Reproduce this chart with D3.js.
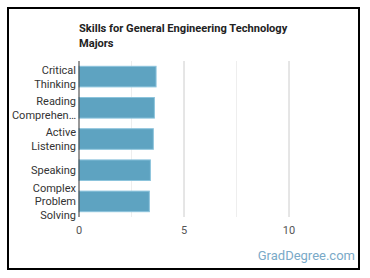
<!DOCTYPE html>
<html>
<head>
<meta charset="utf-8">
<script src="https://cdn.jsdelivr.net/npm/d3@7"></script>
<style>
  body { margin: 0; background: #fff; }
  svg { font-family: Roboto, "Noto Sans", sans-serif; }
</style>
</head>
<body>
<div id="chart"></div>
<script>
"use strict";

// data
var skills = [
	["Critical", "Thinking"],
	["Reading", "Comprehen\u2026"],
	["Active", "Listening"],
	["Speaking"],
	["Complex", "Problem", "Solving"]
];
var scores = [3.67, 3.59, 3.54, 3.40, 3.35];
var ticks = [0, 5, 10];
var gridTicks = [0, 2.5, 5, 7.5, 10];

var width = 370, height = 278;
var plotLeft = 79, plotTop = 61, plotBottom = 217;

var svg = d3.select("#chart").append("svg")
	.attr("width", width)
	.attr("height", height);

// frame
svg.append("rect")
	.attr("x", 8).attr("y", 8)
	.attr("width", 351).attr("height", 261)
	.attr("fill", "#fff")
	.attr("stroke", "#000")
	.attr("stroke-width", 2);

// title
var title = svg.append("text")
	.attr("x", plotLeft)
	.attr("y", 32)
	.attr("font-size", 11.1)
	.attr("font-weight", "bold")
	.attr("fill", "#222");
title.append("tspan").attr("x", plotLeft).text("Skills for General Engineering Technology");
title.append("tspan").attr("x", plotLeft).attr("dy", 14.5).text("Majors");

var x = d3.scaleLinear().domain([0, 10]).range([plotLeft, 289]);
var y = d3.scaleBand()
	.domain(d3.range(skills.length))
	.range([plotTop, plotBottom])
	.paddingInner(0.34)
	.paddingOuter(0.17);

// grid
svg.selectAll(".grid")
	.data(gridTicks.slice(1))
	.enter().append("line")
	.attr("x1", function(d) { return x(d); })
	.attr("x2", function(d) { return x(d); })
	.attr("y1", plotTop)
	.attr("y2", plotBottom)
	.attr("stroke", function(d) { return d % 5 === 0 ? "#ccc" : "#eee"; })
	.attr("stroke-width", 1);

// bars
svg.selectAll(".bar")
	.data(scores)
	.enter().append("rect")
	.attr("x", x(0))
	.attr("y", function(d, i) { return y(i); })
	.attr("width", function(d) { return x(d) - x(0); })
	.attr("height", y.bandwidth())
	.attr("fill", "#5ea3c1")
	.attr("stroke", "#8cc4dc")
	.attr("stroke-width", 1);

// y axis line
svg.append("line")
	.attr("x1", plotLeft).attr("x2", plotLeft)
	.attr("y1", plotTop).attr("y2", plotBottom)
	.attr("stroke", "#333")
	.attr("stroke-width", 1);

// category labels
var lineH = 13.8;
svg.selectAll(".cat")
	.data(skills)
	.enter().append("text")
	.attr("text-anchor", "end")
	.attr("font-size", 11)
	.attr("fill", "#333")
	.each(function(lines, i) {
		var cy = y(i) + y.bandwidth() / 2;
		var startY = cy - (lines.length - 1) * lineH / 2 + 4;
		var t = d3.select(this);
		lines.forEach(function(l, j) {
			t.append("tspan")
				.attr("x", plotLeft - 3)
				.attr("y", startY + j * lineH)
				.text(l);
		});
	});

// x tick labels
svg.selectAll(".tick")
	.data(ticks)
	.enter().append("text")
	.attr("x", function(d) { return x(d); })
	.attr("y", plotBottom + 17)
	.attr("text-anchor", "middle")
	.attr("font-size", 11)
	.attr("fill", "#555")
	.text(function(d) { return d; });

// credit
svg.append("text")
	.attr("x", 355)
	.attr("y", 260)
	.attr("text-anchor", "end")
	.attr("font-size", 13)
	.attr("fill", "#7aaac8")
	.text("GradDegree.com");
</script>
</body>
</html>
